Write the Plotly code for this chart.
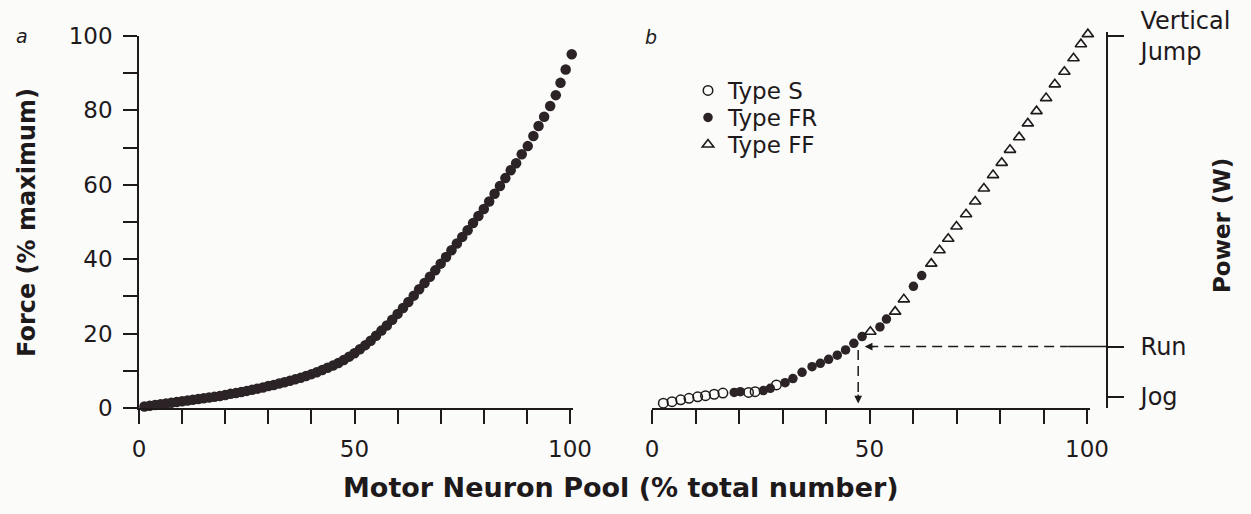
import plotly.graph_objects as go

# ---- Panel a: force vs. fraction of motor neuron pool recruited ----
pool_a = [1.25, 2.5, 3.75, 5.0, 6.25, 7.5, 8.75, 10.0, 11.25, 12.5, 13.75, 15.0,
          16.25, 17.5, 18.75, 20.0, 21.25, 22.5, 23.75, 25.0, 26.25, 27.5, 28.75,
          30.0, 31.25, 32.5, 33.75, 35.0, 36.25, 37.5, 38.75, 40.0, 41.25, 42.5,
          43.75, 45.0, 46.25, 47.5, 48.75, 50.0, 51.25, 52.5, 53.75, 55.0, 56.25,
          57.5, 58.75, 60.0, 61.25, 62.5, 63.75, 65.0, 66.25, 67.5, 68.75, 70.0,
          71.25, 72.5, 73.75, 75.0, 76.25, 77.5, 78.75, 80.0, 81.25, 82.5, 83.75,
          85.0, 86.25, 87.5, 88.8, 90.2, 91.5, 92.7, 94.0, 95.4, 96.7, 97.8, 99.0,
          100.4]
force_a = [0.4, 0.6, 0.8, 1.0, 1.2, 1.4, 1.6, 1.8, 2.0, 2.2, 2.4, 2.6,
           2.8, 3.0, 3.2, 3.5, 3.8, 4.0, 4.3, 4.6, 4.9, 5.2, 5.5,
           5.9, 6.2, 6.6, 6.9, 7.3, 7.7, 8.1, 8.6, 9.1, 9.6, 10.2,
           10.8, 11.4, 12.1, 12.9, 13.8, 14.7, 15.8, 16.9, 18.1, 19.4, 20.8,
           22.2, 23.7, 25.3, 26.9, 28.5, 30.2, 31.9, 33.6, 35.3, 37.0, 38.8,
           40.6, 42.4, 44.2, 46.0, 47.8, 49.7, 51.6, 53.5, 55.5, 57.6, 59.7,
           61.8, 63.9, 65.8, 68.2, 70.4, 73.1, 75.8, 78.3, 81.2, 84.1, 87.4, 91.0,
           95.1]

# ---- Panel b: power output by motor unit type ----
pool_s = [2.6, 4.6, 6.6, 8.5, 10.5, 12.3, 14.3, 16.3, 22.2, 23.7, 28.6]
power_s = [1.3, 1.7, 2.2, 2.6, 3.0, 3.3, 3.7, 4.0, 4.2, 4.4, 6.2]

pool_fr = [18.9, 20.3, 25.6, 27.2, 30.6, 32.4, 34.5, 36.8, 38.7, 40.6, 42.6,
           44.5, 46.4, 48.3, 52.4, 53.9, 60.1, 62.0]
power_fr = [4.2, 4.4, 4.7, 5.3, 6.8, 7.9, 9.6, 11.1, 12.0, 13.1, 14.2,
            15.6, 17.4, 19.2, 21.8, 23.9, 32.7, 35.6]

pool_ff = [50.2, 55.9, 57.9, 64.2, 66.1, 68.1, 70.0, 72.2, 74.3, 76.3, 78.4,
           80.4, 82.3, 84.4, 86.4, 88.4, 90.6, 92.6, 94.8, 96.9, 98.6, 100.2]
power_ff = [20.5, 25.9, 29.2, 38.8, 42.4, 45.5, 48.8, 52.1, 55.5, 59.0, 62.6,
            65.9, 69.4, 72.8, 76.5, 79.8, 83.3, 87.0, 90.4, 94.0, 97.8, 100.5]

# activity levels marked on the power axis
activity_levels = [3.0, 16.5, 100.0]
activity_labels = ["Jog", "Run", "Vertical<br>Jump"]

# tick positions and labels shared by both x axes and the force axis
tick_steps = [0, 10, 20, 30, 40, 50, 60, 70, 80, 90, 100]
x_tick_text = ["0", "", "", "", "", "50", "", "", "", "", "100"]
y_tick_text = ["0", "", "20", "", "40", "", "60", "", "80", "", "100"]

# recruitment point used for running, and where its guide lines end
run_pool = 47.4
run_arrow_x = 48.9
run_line_end = 95.5

INK = "#1e1a1b"
DOT = "#2b2325"
FONT = "DejaVu Sans"
W, H = 1251, 514

# pixel frame of the two panels
X0_A, PX_A = 139, 4.31          # panel a: left edge, px per unit
X0_B, PX_B = 652, 4.35          # panel b: left edge, px per unit
Y_BOT, PX_Y = 408, 3.72         # shared baseline, px per unit
X_MAX = 100.6                    # a little headroom so edge points stay visible
Y2_MAX = 101.0

fig = go.Figure()

fig.add_trace(go.Scatter(
    x=pool_a, y=force_a, mode="markers", xaxis="x", yaxis="y",
    marker=dict(size=10.5, color=DOT, line=dict(width=0)),
    showlegend=False, cliponaxis=False, hoverinfo="x+y"))

fig.add_trace(go.Scatter(
    x=pool_s, y=power_s, mode="markers", xaxis="x2", yaxis="y2", name="Type S",
    marker=dict(symbol="circle-open", size=9.5, color=INK, line=dict(width=1.5)),
    cliponaxis=False, legend="legend"))
fig.add_trace(go.Scatter(
    x=pool_fr, y=power_fr, mode="markers", xaxis="x2", yaxis="y2", name="Type FR",
    marker=dict(symbol="circle", size=9.5, color=DOT, line=dict(width=0)),
    cliponaxis=False, legend="legend2"))
fig.add_trace(go.Scatter(
    x=pool_ff, y=power_ff, mode="markers", xaxis="x2", yaxis="y2", name="Type FF",
    marker=dict(symbol="triangle-up-open", size=10, color=INK, line=dict(width=1.6)),
    cliponaxis=False, legend="legend3"))

axis_common = dict(
    showline=True, linecolor=INK, linewidth=1.5, ticks="outside", ticklen=14,
    tickwidth=1.5, tickcolor=INK, showgrid=False, zeroline=False,
    tickfont=dict(family=FONT, size=23, color=INK), tickmode="array",
    tickvals=tick_steps, fixedrange=True, automargin=False)

y_dom = [(H - Y_BOT) / H, (H - (Y_BOT - 100 * PX_Y)) / H]
y2_dom = [(H - Y_BOT) / H, (H - (Y_BOT - Y2_MAX * PX_Y)) / H]


def legend_row(top_px):
    return dict(x=688 / W, y=1 - top_px / H, xanchor="left", yanchor="top",
                bgcolor="rgba(0,0,0,0)", borderwidth=0,
                font=dict(family=FONT, size=23, color=INK), itemwidth=30)


fig.update_layout(
    width=W, height=H, autosize=False,
    margin=dict(l=0, r=0, t=0, b=0, pad=0, autoexpand=False),
    paper_bgcolor="#fbfbfa", plot_bgcolor="rgba(0,0,0,0)",
    font=dict(family=FONT, color=INK),
    xaxis=dict(axis_common, domain=[X0_A / W, (X0_A + X_MAX * PX_A) / W],
               range=[0, X_MAX], ticktext=x_tick_text, anchor="y",
               ticklabelstandoff=6),
    yaxis=dict(axis_common, domain=y_dom, range=[0, 100], ticktext=y_tick_text,
               anchor="x", ticklabelstandoff=6),
    xaxis2=dict(axis_common, domain=[X0_B / W, (X0_B + X_MAX * PX_B) / W],
                range=[0, X_MAX], ticktext=x_tick_text, anchor="y2",
                ticklabelstandoff=6),
    yaxis2=dict(showline=True, linecolor=INK, linewidth=1.5, ticks="outside",
                ticklen=16, tickwidth=1.5, tickcolor=INK, showgrid=False,
                zeroline=False, domain=y2_dom, range=[0, Y2_MAX], side="right",
                anchor="free", position=1107 / W, tickmode="array",
                tickvals=activity_levels, ticktext=activity_labels,
                tickfont=dict(family=FONT, size=24, color=INK),
                ticklabelstandoff=12, fixedrange=True, automargin=False),
    legend=legend_row(69),
    legend2=legend_row(96),
    legend3=legend_row(123),
    showlegend=True,
)

# guide lines linking the running level to the recruitment curve
fig.add_shape(type="line", xref="x2", yref="y2",
              x0=run_arrow_x + 0.8, x1=run_line_end, y0=activity_levels[1],
              y1=activity_levels[1],
              line=dict(color=INK, width=1.5, dash="10px,6px"))
fig.add_shape(type="line", xref="paper", yref="y2",
              x0=(X0_B + run_line_end * PX_B) / W, x1=1107 / W,
              y0=activity_levels[1], y1=activity_levels[1],
              line=dict(color=INK, width=1.5))
fig.add_shape(type="line", xref="x2", yref="y2",
              x0=run_pool, x1=run_pool, y0=15.6, y1=2.2,
              line=dict(color=INK, width=1.5, dash="10px,6px"))

# arrowheads at the ends of the guide lines
fig.add_annotation(x=run_arrow_x, y=activity_levels[1], ax=run_arrow_x + 2.5,
                   ay=activity_levels[1], xref="x2", yref="y2", axref="x2",
                   ayref="y2", text="", showarrow=True, arrowhead=2,
                   arrowsize=1.1, arrowwidth=1.4, arrowcolor=INK, standoff=0)
fig.add_annotation(x=run_pool, y=1.2, ax=run_pool, ay=4.0, xref="x2", yref="y2",
                   axref="x2", ayref="y2", text="", showarrow=True, arrowhead=2,
                   arrowsize=1.1, arrowwidth=1.4, arrowcolor=INK, standoff=0)

# axis titles and panel letters
fig.add_annotation(text="<b>Force (% maximum)</b>", xref="paper", yref="paper",
                   x=27 / W, y=1 - 223 / H, textangle=-90, showarrow=False,
                   font=dict(family=FONT, size=24, color=INK),
                   xanchor="center", yanchor="middle")
fig.add_annotation(text="<b>Power (W)</b>", xref="paper", yref="paper",
                   x=1222 / W, y=1 - 226 / H, textangle=-90, showarrow=False,
                   font=dict(family=FONT, size=23, color=INK),
                   xanchor="center", yanchor="middle")
fig.add_annotation(text="<b>Motor Neuron Pool (% total number)</b>",
                   xref="paper", yref="paper", x=621 / W, y=1 - 487 / H,
                   showarrow=False, font=dict(family=FONT, size=27, color=INK),
                   xanchor="center", yanchor="middle")
fig.add_annotation(text="<i>a</i>", xref="paper", yref="paper", x=22 / W,
                   y=1 - 36 / H, showarrow=False,
                   font=dict(family=FONT, size=19, color=INK),
                   xanchor="center", yanchor="middle")
fig.add_annotation(text="<i>b</i>", xref="paper", yref="paper", x=651 / W,
                   y=1 - 37 / H, showarrow=False,
                   font=dict(family=FONT, size=19, color=INK),
                   xanchor="center", yanchor="middle")

fig.write_html("out.html")
